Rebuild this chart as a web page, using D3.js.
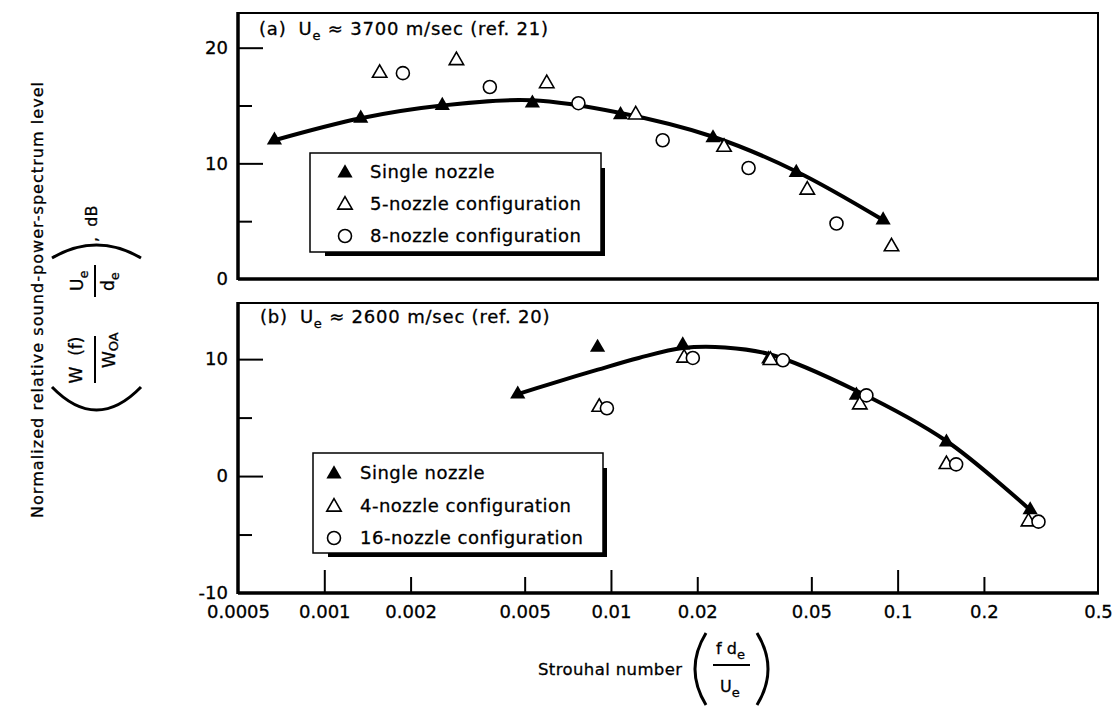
<!DOCTYPE html>
<html><head><meta charset="utf-8">
<script src="https://cdn.jsdelivr.net/npm/d3@7"></script>
<style>
body{margin:0;background:#fff}
svg{display:block}
text{font-family:"DejaVu Sans",sans-serif;fill:#000;stroke:#000;stroke-width:0.3px}
</style>
</head><body>
<svg id="c" width="1113" height="708"></svg>
<script>
// ---------- data ----------
const xTickValues = [0.0005, 0.001, 0.002, 0.005, 0.01, 0.02, 0.05, 0.1, 0.2, 0.5];
const xMajorTicks = [0.001, 0.01, 0.1];
const xTickLabels = ["0.0005", "0.001", "0.002", "0.005", "0.01", "0.02", "0.05", "0.1", "0.2", "0.5"];

// panel (a)
const aYLabelTicks = [0, 10, 20];
const aYTickLabels = ["0", "10", "20"];
const aYMinorTicks = [5, 15];
const aSingleX = [0.00067, 0.00134, 0.00258, 0.00532, 0.0108, 0.0227, 0.0443, 0.089];
const aSingleY = [12.0, 13.9, 15.0, 15.2, 14.2, 12.2, 9.2, 5.1];
const aFiveX = [0.00156, 0.00289, 0.00597, 0.0122, 0.0248, 0.0484, 0.0952];
const aFiveY = [17.8, 18.9, 16.9, 14.2, 11.4, 7.7, 2.8];
const aEightX = [0.00188, 0.00378, 0.0077, 0.01515, 0.0302, 0.0612];
const aEightY = [17.8, 16.6, 15.2, 12.0, 9.6, 4.8];
const aFitX = [0.00067, 0.00134, 0.00258, 0.0053, 0.0108, 0.0227, 0.0443, 0.089];
const aFitY = [12.0, 13.9, 15.0, 15.45, 14.35, 12.3, 9.3, 5.1];
const aLegend = ["Single nozzle", "5-nozzle configuration", "8-nozzle configuration"];

// panel (b)
const bYLabelTicks = [-10, 0, 10];
const bYTickLabels = ["-10", "0", "10"];
const bYMinorTicks = [-5, 5];
const bSingleX = [0.00473, 0.00898, 0.0178, 0.0355, 0.0718, 0.148, 0.29];
const bSingleY = [7.0, 11.0, 11.2, 10.0, 6.9, 2.9, -2.9];
const bFourX = [0.0091, 0.018, 0.036, 0.0738, 0.148, 0.286];
const bFourY = [5.9, 10.1, 9.9, 6.1, 1.0, -3.9];
const bSixteenX = [0.00968, 0.0193, 0.0398, 0.0778, 0.16, 0.31];
const bSixteenY = [5.8, 10.1, 9.9, 6.9, 1.0, -3.9];
const bFitX = [0.00473, 0.006, 0.009, 0.0125, 0.0178, 0.025, 0.036, 0.0718, 0.148, 0.29];
const bFitY = [7.0, 7.8, 9.1, 10.1, 10.95, 11.0, 10.4, 7.3, 3.0, -2.9];
const bLegend = ["Single nozzle", "4-nozzle configuration", "16-nozzle configuration"];

// ---------- drawing ----------
const svg = d3.select("#c");
const L = 238, R = 1098;
const x = d3.scaleLog().domain([0.0005, 0.5]).range([L, R]);
const yA = d3.scaleLinear().domain([0, 23]).range([279, 13]);
const yB = d3.scaleLinear().domain([-10, 14.8]).range([593, 303]);

const triFilled = d3.symbol(d3.symbolTriangle, 100);
const triOpen = d3.symbol(d3.symbolTriangle, 90);

function frame(y) {
  const [b, t] = y.range();
  svg.append("rect").attr("x", L).attr("y", t).attr("width", R - L).attr("height", b - t)
    .attr("fill", "none").attr("stroke", "#000").attr("stroke-width", 2);
  svg.append("line").attr("x1", L).attr("x2", L).attr("y1", t - 1).attr("y2", b + 1)
    .attr("stroke", "#000").attr("stroke-width", 3.5);
  svg.append("line").attr("x1", L).attr("x2", R + 1).attr("y1", b).attr("y2", b)
    .attr("stroke", "#000").attr("stroke-width", 3.5);
}

function yAxis(y, labels, labelText, minor) {
  const clean = g => { g.select(".domain").remove(); g.selectAll("line").attr("stroke", "#000").attr("stroke-width", 2); };
  const lo = y.domain()[0];
  svg.append("g").attr("transform", `translate(${L},0)`)
    .call(d3.axisLeft(y).tickValues(labels.filter(v => v !== lo)).tickSize(-25).tickFormat(""))
    .call(clean);
  svg.append("g").attr("transform", `translate(${L},0)`)
    .call(d3.axisLeft(y).tickValues(minor).tickSize(-14).tickFormat(""))
    .call(clean);
  const g = svg.append("g").attr("transform", `translate(${L},0)`)
    .call(d3.axisLeft(y).tickValues(labels).tickSize(0).tickPadding(10).tickFormat((d, i) => labelText[i]));
  g.select(".domain").remove();
  g.selectAll("text").attr("font-family", "DejaVu Sans").attr("font-size", 18).attr("fill", "#000");
  g.attr("font-family", null).attr("font-size", null);
}

function panel(y, fitX, fitY, sX, sY, oX, oY, cX, cY) {
  frame(y);
  const line = d3.line().x(d => x(d[0])).y(d => y(d[1])).curve(d3.curveCatmullRom.alpha(0.5));
  svg.append("path").datum(fitX.map((v, i) => [v, fitY[i]])).attr("d", line)
    .attr("fill", "none").attr("stroke", "#000").attr("stroke-width", 4).attr("stroke-linecap", "round");
  svg.append("g").selectAll("path").data(sX.map((v, i) => [v, sY[i]])).join("path")
    .attr("transform", d => `translate(${x(d[0])},${y(d[1])})`).attr("d", triFilled).attr("fill", "#000");
  svg.append("g").selectAll("path").data(oX.map((v, i) => [v, oY[i]])).join("path")
    .attr("transform", d => `translate(${x(d[0])},${y(d[1])})`).attr("d", triOpen)
    .attr("fill", "#fff").attr("stroke", "#000").attr("stroke-width", 1.6);
  svg.append("g").selectAll("circle").data(cX.map((v, i) => [v, cY[i]])).join("circle")
    .attr("cx", d => x(d[0])).attr("cy", d => y(d[1])).attr("r", 6.5)
    .attr("fill", "#fff").attr("stroke", "#000").attr("stroke-width", 1.6);
}

function legend(x0, y0, x1, y1, mx, tx, rows, labels) {
  const s = "#000";
  svg.append("line").attr("x1", x0 + 15).attr("x2", x1 + 3).attr("y1", y1 + 2).attr("y2", y1 + 2).attr("stroke", s).attr("stroke-width", 4);
  svg.append("line").attr("x1", x1 + 2).attr("x2", x1 + 2).attr("y1", y0 + 15).attr("y2", y1 + 4).attr("stroke", s).attr("stroke-width", 4);
  svg.append("rect").attr("x", x0).attr("y", y0).attr("width", x1 - x0).attr("height", y1 - y0)
    .attr("fill", "#fff").attr("stroke", s).attr("stroke-width", 1.5);
  svg.append("path").attr("transform", `translate(${mx},${rows[0] + 1})`).attr("d", triFilled).attr("fill", s);
  svg.append("path").attr("transform", `translate(${mx},${rows[1] + 1})`).attr("d", triOpen)
    .attr("fill", "#fff").attr("stroke", s).attr("stroke-width", 1.6);
  svg.append("circle").attr("cx", mx).attr("cy", rows[2]).attr("r", 6.5)
    .attr("fill", "#fff").attr("stroke", s).attr("stroke-width", 1.6);
  labels.forEach((t, i) => svg.append("text").attr("x", tx).attr("y", rows[i]).attr("dy", "0.36em")
    .attr("font-size", 18).attr("letter-spacing", 0.5).text(t));
}

function title(x0, yb, tag, speed, ref) {
  const t = svg.append("text").attr("x", x0).attr("y", yb).attr("font-size", 18).attr("letter-spacing", 0.8);
  t.append("tspan").text(tag);
  t.append("tspan").attr("dx", 12).text("U");
  t.append("tspan").attr("font-size", 13).attr("dy", 5).text("e");
  t.append("tspan").attr("dy", -5).text(" \u2248 " + speed + " m/sec (ref. " + ref + ")");
}

panel(yA, aFitX, aFitY, aSingleX, aSingleY, aFiveX, aFiveY, aEightX, aEightY);
yAxis(yA, aYLabelTicks, aYTickLabels, aYMinorTicks);
panel(yB, bFitX, bFitY, bSingleX, bSingleY, bFourX, bFourY, bSixteenX, bSixteenY);
yAxis(yB, bYLabelTicks, bYTickLabels, bYMinorTicks);

// x axis on bottom panel
{
  const clean = g => { g.select(".domain").remove(); g.selectAll("line").attr("stroke", "#000").attr("stroke-width", 2); };
  svg.append("g").attr("transform", "translate(0,593)")
    .call(d3.axisBottom(x).tickValues(xMajorTicks).tickSize(-23).tickFormat("")).call(clean);
  svg.append("g").attr("transform", "translate(0,593)")
    .call(d3.axisBottom(x).tickValues(xTickValues.filter(v => !xMajorTicks.includes(v) && v !== 0.0005 && v !== 0.5)).tickSize(-16).tickFormat("")).call(clean);
  const g = svg.append("g").attr("transform", "translate(0,593)")
    .call(d3.axisBottom(x).tickValues(xTickValues).tickSize(0).tickPadding(12).tickFormat((d, i) => xTickLabels[i]));
  g.select(".domain").remove();
  g.selectAll("text").attr("font-family", "DejaVu Sans").attr("font-size", 18).attr("fill", "#000");
}

legend(310, 153, 601, 252, 345, 370, [172, 204, 236], aLegend);
legend(313, 453, 603, 553, 334, 360, [473, 506, 538], bLegend);

title(259, 35, "(a)", "3700", "21");
title(260, 323, "(b)", "2600", "20");

// ---------- y-axis title (rotated) ----------
{
  const g = svg.append("g").attr("transform", "rotate(-90)");
  g.append("text").attr("x", -300).attr("y", 43).attr("text-anchor", "middle").attr("font-size", 16)
    .attr("textLength", 436).attr("lengthAdjust", "spacing")
    .text("Normalized relative sound-power-spectrum level");
  const paren = d => g.append("path").attr("d", d).attr("fill", "none").attr("stroke", "#000").attr("stroke-width", 3);
  paren("M-387,52 Q-433,96.5 -387,141");
  paren("M-258,52 Q-232,96.5 -258,141");
  // fraction W(f)/W_OA
  g.append("text").attr("x", -360).attr("y", 82).attr("text-anchor", "middle").attr("font-size", 17)
    .attr("xml:space", "preserve").text("W  (f)");
  g.append("line").attr("x1", -383).attr("x2", -336).attr("y1", 95).attr("y2", 95).attr("stroke", "#000").attr("stroke-width", 2);
  const d1 = g.append("text").attr("x", -368).attr("y", 115).attr("font-size", 17);
  d1.append("tspan").text("W");
  d1.append("tspan").attr("font-size", 13).attr("dy", 3).text("OA");
  // fraction U_e / d_e
  const n2 = g.append("text").attr("x", -291).attr("y", 83).attr("font-size", 17);
  n2.append("tspan").text("U");
  n2.append("tspan").attr("font-size", 13).attr("dy", 5).text("e");
  g.append("line").attr("x1", -297).attr("x2", -265).attr("y1", 95).attr("y2", 95).attr("stroke", "#000").attr("stroke-width", 2);
  const d2 = g.append("text").attr("x", -291).attr("y", 114).attr("font-size", 17);
  d2.append("tspan").text("d");
  d2.append("tspan").attr("font-size", 13).attr("dy", 5).text("e");
  g.append("text").attr("x", -242).attr("y", 97).attr("font-size", 16).attr("xml:space", "preserve").text(",  dB");
}

// ---------- x-axis title ----------
{
  svg.append("text").attr("x", 538).attr("y", 675).attr("font-size", 16.5).attr("textLength", 144)
    .attr("lengthAdjust", "spacing").text("Strouhal number");
  const paren = d => svg.append("path").attr("d", d).attr("fill", "none").attr("stroke", "#000").attr("stroke-width", 3);
  paren("M706,633 Q684,669 706,705");
  paren("M757,633 Q779,669 757,705");
  const n = svg.append("text").attr("x", 716).attr("y", 654).attr("font-size", 16).attr("xml:space", "preserve");
  n.append("tspan").text("f d");
  n.append("tspan").attr("font-size", 13).attr("dy", 5).text("e");
  svg.append("line").attr("x1", 713).attr("x2", 750).attr("y1", 665).attr("y2", 665).attr("stroke", "#000").attr("stroke-width", 2);
  const d = svg.append("text").attr("x", 720).attr("y", 692).attr("font-size", 16);
  d.append("tspan").text("U");
  d.append("tspan").attr("font-size", 13).attr("dy", 5).text("e");
}
</script>
</body></html>
